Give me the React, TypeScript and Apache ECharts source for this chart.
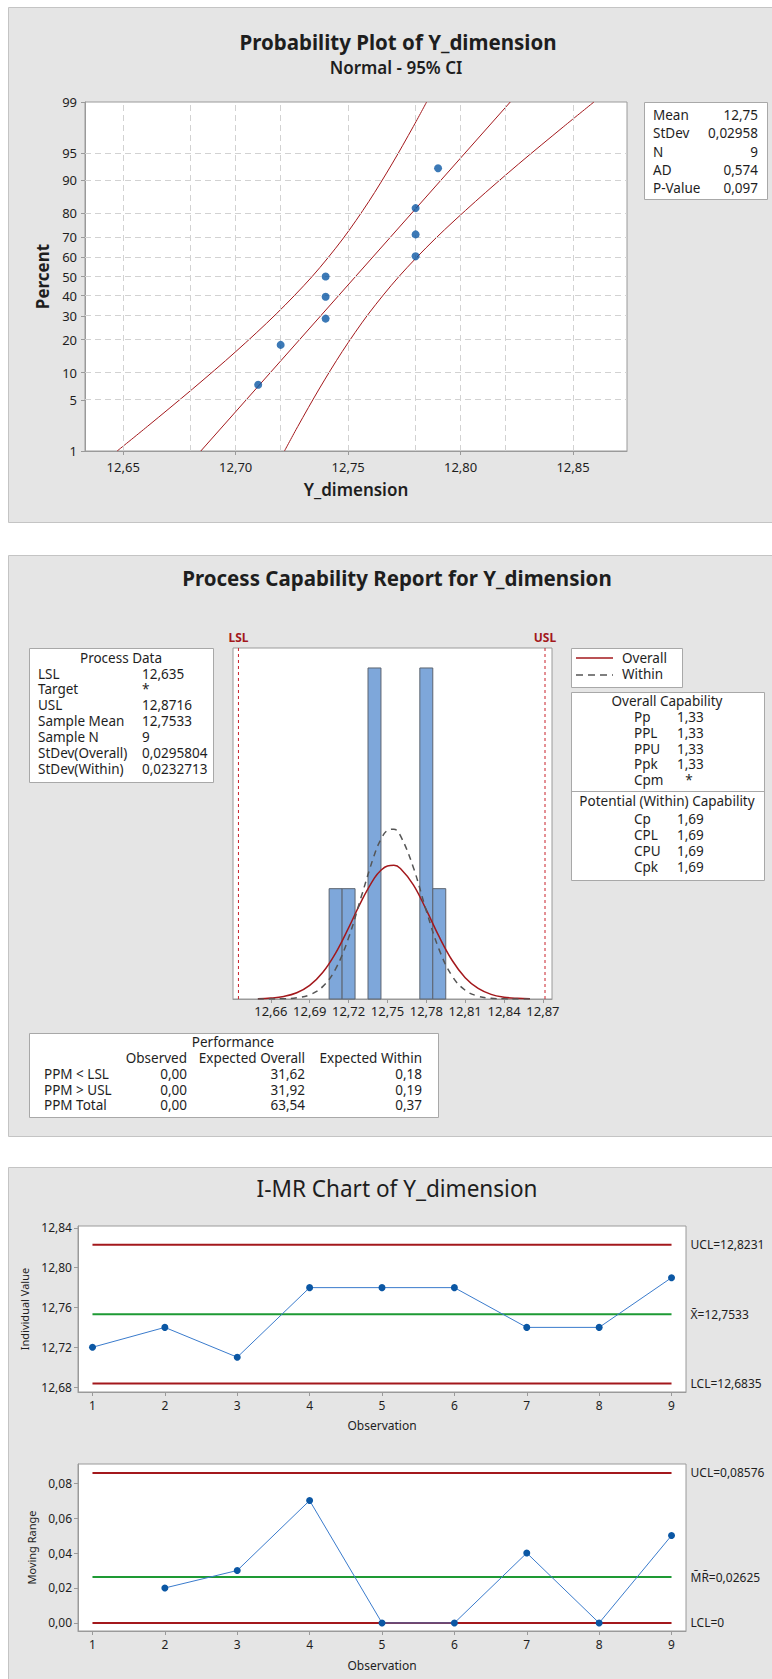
import React, { useEffect, useRef } from 'react';
import * as echarts from 'echarts';

const FONT = '"Noto Sans", "Open Sans", sans-serif';
const TXT = '#1e1e1e';
const AX = '#9a9a9a';
const RED = '#a3181c';
const BLUE = '#0b57a4';

// ---------- Probability plot ----------
const probValues = [12.71, 12.72, 12.74, 12.74, 12.74, 12.78, 12.78, 12.78, 12.79];
const probPercents = [7.45, 18.09, 28.72, 39.36, 50.0, 60.64, 71.28, 81.91, 92.55];
const percentTicks = [1, 5, 10, 20, 30, 40, 50, 60, 70, 80, 90, 95, 99];
const percentGrid = [5, 10, 20, 30, 40, 50, 60, 70, 80, 90, 95];
const probXTicks = [12.65, 12.7, 12.75, 12.8, 12.85];
const probXGrid = [12.65, 12.675, 12.7, 12.725, 12.75, 12.775, 12.8, 12.825, 12.85];
const fitPercents = [1, 99];
const fitValues = [12.6845, 12.8221];
const ciPercents = [1, 2.275, 6.68, 15.87, 30.85, 50, 69.15, 84.13, 93.32, 97.725, 99];
const ciLower = [12.6473, 12.6607, 12.6808, 12.7001, 12.718, 12.734, 12.7476, 12.7592, 12.7695, 12.779, 12.7849];
const ciUpper = [12.7217, 12.7276, 12.7371, 12.7474, 12.759, 12.7726, 12.7886, 12.8066, 12.8258, 12.8459, 12.8593];
const statLabels = ['Mean', 'StDev', 'N', 'AD', 'P-Value'];
const statValues = ['12,75', '0,02958', '9', '0,574', '0,097'];

// ---------- Capability ----------
const binCenters = [12.71, 12.72, 12.74, 12.78, 12.79];
const binCounts = [1, 1, 3, 3, 1];
const binWidth = 0.01;
const specValues = [12.635, 12.8716];
const specLabels = ['LSL', 'USL'];
const histXTicks = [12.66, 12.69, 12.72, 12.75, 12.78, 12.81, 12.84, 12.87];
const histYMax = 3.181;
const curveX = [12.65, 12.66, 12.67, 12.68, 12.69, 12.7, 12.71, 12.72, 12.73, 12.74, 12.745, 12.75, 12.755, 12.76, 12.77, 12.78, 12.79, 12.8, 12.81, 12.82, 12.83, 12.84, 12.85, 12.86];
const overallY = [0.0027, 0.0084, 0.023, 0.0563, 0.1229, 0.2394, 0.4157, 0.6439, 0.8898, 1.0969, 1.1669, 1.2062, 1.2118, 1.1831, 1.035, 0.8077, 0.5622, 0.3491, 0.1932, 0.0955, 0.0421, 0.0165, 0.0058, 0.0018];
const withinY = [0.0001, 0.0005, 0.0025, 0.0108, 0.0382, 0.1121, 0.2731, 0.5542, 0.9349, 1.3101, 1.4479, 1.5274, 1.5388, 1.4803, 1.1922, 0.7992, 0.445, 0.206, 0.0792, 0.0254, 0.0067, 0.0015, 0.0003, 0.0];
const processLabels = ['LSL', 'Target', 'USL', 'Sample Mean', 'Sample N', 'StDev(Overall)', 'StDev(Within)'];
const processValues = ['12,635', '*', '12,8716', '12,7533', '9', '0,0295804', '0,0232713'];
const overallCapLabels = ['Pp', 'PPL', 'PPU', 'Ppk', 'Cpm'];
const overallCapValues = ['1,33', '1,33', '1,33', '1,33', '*'];
const withinCapLabels = ['Cp', 'CPL', 'CPU', 'Cpk'];
const withinCapValues = ['1,69', '1,69', '1,69', '1,69'];
const perfRows = ['PPM < LSL', 'PPM > USL', 'PPM Total'];
const perfObserved = ['0,00', '0,00', '0,00'];
const perfExpOverall = ['31,62', '31,92', '63,54'];
const perfExpWithin = ['0,18', '0,19', '0,37'];

// ---------- I-MR ----------
const observations = [1, 2, 3, 4, 5, 6, 7, 8, 9];
const indValues = [12.72, 12.74, 12.71, 12.78, 12.78, 12.78, 12.74, 12.74, 12.79];
const mrValues = [null, 0.02, 0.03, 0.07, 0.0, 0.0, 0.04, 0.0, 0.05];
const iUCL = 12.8231, iMean = 12.7533, iLCL = 12.6835;
const mrUCL = 0.08576, mrMean = 0.02625, mrLCL = 0;
const iYTicks = [12.68, 12.72, 12.76, 12.8, 12.84];
const mrYTicks = [0, 0.02, 0.04, 0.06, 0.08];

function probit(p: number): number {
  const a = [-3.969683028665376e1, 2.209460984245205e2, -2.759285104469687e2, 1.38357751867269e2, -3.066479806614716e1, 2.506628277459239];
  const b = [-5.447609879822406e1, 1.615858368580409e2, -1.556989798598866e2, 6.680131188771972e1, -1.328068155288572e1];
  const c = [-7.784894002430293e-3, -3.223964580411365e-1, -2.400758277161838, -2.549732539343734, 4.374664141464968, 2.938163982698783];
  const d = [7.784695709041462e-3, 3.224671290700398e-1, 2.445134137142996, 3.754408661907416];
  const pl = 0.02425;
  let q: number, r: number;
  if (p < pl) {
    q = Math.sqrt(-2 * Math.log(p));
    return (((((c[0] * q + c[1]) * q + c[2]) * q + c[3]) * q + c[4]) * q + c[5]) / ((((d[0] * q + d[1]) * q + d[2]) * q + d[3]) * q + 1);
  }
  if (p <= 1 - pl) {
    q = p - 0.5; r = q * q;
    return (((((a[0] * r + a[1]) * r + a[2]) * r + a[3]) * r + a[4]) * r + a[5]) * q / (((((b[0] * r + b[1]) * r + b[2]) * r + b[3]) * r + b[4]) * r + 1);
  }
  q = Math.sqrt(-2 * Math.log(1 - p));
  return -(((((c[0] * q + c[1]) * q + c[2]) * q + c[3]) * q + c[4]) * q + c[5]) / ((((d[0] * q + d[1]) * q + d[2]) * q + d[3]) * q + 1);
}

const fmt = (v: number, n: number) => v.toFixed(n).replace('.', ',');

function txt(text: string, x: number, y: number, o: any = {}) {
  return {
    type: 'text', x, y, z: 100, silent: true, scaleX: o.scaleX ?? 1,
    style: {
      text, x: 0, y: 0, fill: o.color || TXT, fontSize: o.size || 13.5, fontFamily: FONT,
      fontWeight: o.weight || 'normal', textAlign: o.align || 'left', textVerticalAlign: 'middle',
    },
  };
}
function box(x: number, y: number, w: number, h: number, o: any = {}) {
  return {
    type: 'rect', z: o.z ?? 50, silent: true,
    shape: { x, y, width: w, height: h },
    style: { fill: o.fill || '#ffffff', stroke: o.stroke || '#a8a8a8', lineWidth: 1 },
  };
}

function buildOption() {
  const zMin = probit(0.01);
  const zMax = probit(0.99);
  const zTicks = percentTicks.map((p) => probit(p / 100));
  const pctLabel = (v: number) => {
    let best = 0;
    zTicks.forEach((z, i) => { if (Math.abs(z - v) < Math.abs(zTicks[best] - v)) best = i; });
    return String(percentTicks[best]);
  };

  const axLine = { show: true, onZero: false, lineStyle: { color: AX, width: 1 } };
  const tick = (vals: number[]) => ({ show: true, length: 4, customValues: vals, lineStyle: { color: AX } });
  const lab = (vals: number[], f: (v: number) => string, size: number, margin: number) => ({
    customValues: vals, formatter: f, color: TXT, fontSize: size, fontFamily: FONT, margin,
  });

  const graphics: any[] = [];
  // panels
  graphics.push(box(8.5, 7.5, 770, 515, { fill: '#e5e5e5', stroke: '#c4c4c4', z: -10 }));
  graphics.push(box(8.5, 555.5, 770, 581, { fill: '#e5e5e5', stroke: '#c4c4c4', z: -10 }));
  graphics.push(box(8.5, 1167.5, 770, 530, { fill: '#e5e5e5', stroke: '#c4c4c4', z: -10 }));

  // panel 1 texts
  graphics.push(txt('Probability Plot of Y_dimension', 398, 42, { size: 20.5, weight: 'bold', align: 'center' }));
  graphics.push(txt('Normal - 95% CI', 396, 67, { size: 17, weight: 600, align: 'center' }));
  graphics.push(box(644.5, 102.5, 123, 97));
  statLabels.forEach((l, i) => {
    const y = 115 + i * 18.3;
    graphics.push(txt(l, 653, y));
    graphics.push(txt(statValues[i], 758, y, { align: 'right' }));
  });

  // panel 2 texts
  graphics.push(txt('Process Capability Report for Y_dimension', 397, 578, { size: 20.5, weight: 'bold', align: 'center' }));
  graphics.push(box(29.5, 648.5, 184, 134));
  graphics.push(txt('Process Data', 121, 658, { align: 'center' }));
  processLabels.forEach((l, i) => {
    const y = 673.5 + i * 15.9;
    graphics.push(txt(l, 38, y));
    graphics.push(txt(processValues[i], 142, y));
  });
  graphics.push(box(571.5, 648.5, 111, 39));
  graphics.push({ type: 'line', z: 100, silent: true, shape: { x1: 576, y1: 658, x2: 613, y2: 658 }, style: { stroke: RED, lineWidth: 1.5 } });
  graphics.push({ type: 'line', z: 100, silent: true, shape: { x1: 576, y1: 675, x2: 613, y2: 675 }, style: { stroke: '#555', lineWidth: 1.3, lineDash: [7, 5] } });
  graphics.push(txt('Overall', 622, 658));
  graphics.push(txt('Within', 622, 674));
  graphics.push(box(571.5, 692.5, 193, 188));
  graphics.push(txt('Overall Capability', 667, 701, { align: 'center' }));
  overallCapLabels.forEach((l, i) => {
    const y = 717 + i * 15.8;
    const star = overallCapValues[i] === '*';
    graphics.push(txt(l, 634, y));
    graphics.push(txt(overallCapValues[i], star ? 689 : 677, y, { align: star ? 'center' : 'left' }));
  });
  graphics.push({ type: 'line', z: 100, silent: true, shape: { x1: 571.5, y1: 791.5, x2: 764.5, y2: 791.5 }, style: { stroke: '#a8a8a8', lineWidth: 1 } });
  graphics.push(txt('Potential (Within) Capability', 667, 801, { align: 'center' }));
  withinCapLabels.forEach((l, i) => {
    const y = 819 + i * 15.9;
    graphics.push(txt(l, 634, y));
    graphics.push(txt(withinCapValues[i], 677, y));
  });
  graphics.push(box(29.5, 1033.5, 409, 84));
  graphics.push(txt('Performance', 233, 1042, { align: 'center' }));
  graphics.push(txt('Observed', 187, 1058, { align: 'right' }));
  graphics.push(txt('Expected Overall', 305, 1058, { align: 'right' }));
  graphics.push(txt('Expected Within', 422, 1058, { align: 'right' }));
  perfRows.forEach((l, i) => {
    const y = 1074 + i * 15.5;
    graphics.push(txt(l, 44, y));
    graphics.push(txt(perfObserved[i], 187, y, { align: 'right' }));
    graphics.push(txt(perfExpOverall[i], 305, y, { align: 'right' }));
    graphics.push(txt(perfExpWithin[i], 422, y, { align: 'right' }));
  });

  // panel 3 title
  graphics.push(txt('I-MR Chart of Y_dimension', 397, 1188, { size: 23, align: 'center', scaleX: 0.98 }));

  const gridBase = { show: true, backgroundColor: '#ffffff', borderColor: AX, borderWidth: 1, z: 0, containLabel: false, outerBoundsMode: 'none' };

  const ctrlLine = (xi: number, yi: number, v: number, color: string, label: string) => ({
    type: 'line', xAxisIndex: xi, yAxisIndex: yi, z: 3, silent: true, symbol: 'none',
    data: [[observations[0], v], [observations[observations.length - 1], v]],
    lineStyle: { color, width: 2 },
    endLabel: { show: true, formatter: label, distance: 19, color: TXT, fontSize: 12, fontFamily: FONT },
  });

  return {
    animation: false,
    backgroundColor: '#ffffff',
    textStyle: { fontFamily: FONT },
    graphic: { elements: graphics },
    grid: [
      { ...gridBase, left: 85, top: 102, width: 542, height: 349 },
      { ...gridBase, left: 233, top: 648, width: 319, height: 351 },
      { ...gridBase, left: 78, top: 1226, width: 608, height: 166 },
      { ...gridBase, left: 78, top: 1464, width: 608, height: 167 },
    ],
    xAxis: [
      {
        gridIndex: 0, type: 'value', min: 12.633, max: 12.874, axisLine: axLine, axisTick: tick(probXTicks),
        axisLabel: lab(probXTicks, (v) => fmt(v, 2), 13, 9), splitLine: { show: false },
        name: 'Y_dimension', nameLocation: 'middle', nameGap: 30,
        nameTextStyle: { fontSize: 17, fontWeight: 600, color: TXT, fontFamily: FONT },
      },
      {
        gridIndex: 1, type: 'value', min: 12.6308, max: 12.877, axisLine: axLine, axisTick: tick(histXTicks),
        axisLabel: lab(histXTicks, (v) => fmt(v, 2), 13, 5), splitLine: { show: false },
      },
      {
        gridIndex: 2, type: 'value', min: 0.8, max: 9.2, axisLine: axLine, axisTick: tick(observations),
        axisLabel: lab(observations, (v) => String(Math.round(v)), 12, 7), splitLine: { show: false },
        name: 'Observation', nameLocation: 'middle', nameGap: 27,
        nameTextStyle: { fontSize: 12, color: TXT, fontFamily: FONT },
      },
      {
        gridIndex: 3, type: 'value', min: 0.8, max: 9.2, axisLine: axLine, axisTick: tick(observations),
        axisLabel: lab(observations, (v) => String(Math.round(v)), 12, 7), splitLine: { show: false },
        name: 'Observation', nameLocation: 'middle', nameGap: 28,
        nameTextStyle: { fontSize: 12, color: TXT, fontFamily: FONT },
      },
    ],
    yAxis: [
      {
        gridIndex: 0, type: 'value', min: zMin, max: zMax, axisLine: axLine, axisTick: tick(zTicks),
        axisLabel: lab(zTicks, pctLabel, 13, 8), splitLine: { show: false },
        name: 'Percent', nameLocation: 'middle', nameGap: 32,
        nameTextStyle: { fontSize: 17, fontWeight: 'bold', color: TXT, fontFamily: FONT },
      },
      { gridIndex: 1, type: 'value', min: 0, max: histYMax, show: false, splitLine: { show: false } },
      {
        gridIndex: 2, type: 'value', min: 12.675, max: 12.842, axisLine: axLine, axisTick: tick(iYTicks),
        axisLabel: lab(iYTicks, (v) => fmt(v, 2), 12, 6), splitLine: { show: false },
        name: 'Individual Value', nameLocation: 'middle', nameGap: 40,
        nameTextStyle: { fontSize: 11, color: TXT, fontFamily: FONT },
      },
      {
        gridIndex: 3, type: 'value', min: -0.0046, max: 0.0909, axisLine: axLine, axisTick: tick(mrYTicks),
        axisLabel: lab(mrYTicks, (v) => fmt(v, 2), 12, 6), splitLine: { show: false },
        name: 'Moving Range', nameLocation: 'middle', nameGap: 40,
        nameTextStyle: { fontSize: 11, color: TXT, fontFamily: FONT },
      },
    ],
    series: [
      // probability plot grid lines
      {
        type: 'line', xAxisIndex: 0, yAxisIndex: 0, z: 1, silent: true, showSymbol: false,
        data: [[12.75, 0]], lineStyle: { opacity: 0 },
        markLine: {
          silent: true, symbol: ['none', 'none'], label: { show: false },
          lineStyle: { color: '#d2d2d2', type: [6, 4], width: 1 },
          data: [
            ...probXGrid.map((v) => ({ xAxis: v })),
            ...percentGrid.map((p) => ({ yAxis: probit(p / 100) })),
          ],
        },
      },
      {
        type: 'line', xAxisIndex: 0, yAxisIndex: 0, z: 3, silent: true, symbol: 'none',
        data: fitValues.map((x, i) => [x, probit(fitPercents[i] / 100)]),
        lineStyle: { color: RED, width: 1 },
      },
      {
        type: 'line', xAxisIndex: 0, yAxisIndex: 0, z: 3, silent: true, symbol: 'none', smooth: 0.3,
        data: ciLower.map((x, i) => [x, probit(ciPercents[i] / 100)]),
        lineStyle: { color: RED, width: 1 },
      },
      {
        type: 'line', xAxisIndex: 0, yAxisIndex: 0, z: 3, silent: true, symbol: 'none', smooth: 0.3,
        data: ciUpper.map((x, i) => [x, probit(ciPercents[i] / 100)]),
        lineStyle: { color: RED, width: 1 },
      },
      {
        type: 'scatter', xAxisIndex: 0, yAxisIndex: 0, z: 5, silent: true, symbolSize: 8,
        data: probValues.map((x, i) => [x, probit(probPercents[i] / 100)]),
        itemStyle: { color: BLUE },
      },
      // histogram
      {
        type: 'custom', xAxisIndex: 1, yAxisIndex: 1, z: 2, silent: true,
        data: binCenters.map((x, i) => [x, binCounts[i]]),
        encode: { x: 0, y: 1 },
        renderItem: (params: any, api: any) => {
          const x = api.value(0), c = api.value(1);
          const p0 = api.coord([x - binWidth / 2, c]);
          const p1 = api.coord([x + binWidth / 2, 0]);
          return {
            type: 'rect',
            shape: { x: p0[0], y: p0[1], width: p1[0] - p0[0], height: p1[1] - p0[1] },
            style: { fill: '#7ea7da', stroke: '#5c6470', lineWidth: 1 },
          };
        },
      },
      {
        type: 'line', xAxisIndex: 1, yAxisIndex: 1, z: 4, silent: true, symbol: 'none', smooth: 0.4,
        data: curveX.map((x, i) => [x, overallY[i]]),
        lineStyle: { color: RED, width: 1.5 },
      },
      {
        type: 'line', xAxisIndex: 1, yAxisIndex: 1, z: 4, silent: true, symbol: 'none', smooth: 0.4,
        data: curveX.map((x, i) => [x, withinY[i]]),
        lineStyle: { color: '#555555', width: 1.5, type: [6, 5] },
      },
      {
        type: 'custom', xAxisIndex: 1, yAxisIndex: 1, z: 4, silent: true, clip: false,
        data: specValues.map((v) => [v, 0]),
        encode: { x: 0, y: 1 },
        renderItem: (params: any, api: any) => {
          const v = api.value(0);
          const b = api.coord([v, 0]);
          const t = api.coord([v, histYMax]);
          return {
            type: 'group',
            children: [
              {
                type: 'line',
                shape: { x1: b[0], y1: b[1], x2: t[0], y2: t[1] },
                style: { stroke: '#c8202a', lineWidth: 1, lineDash: [3, 3] },
              },
              {
                type: 'text',
                style: {
                  text: specLabels[params.dataIndex], x: t[0], y: t[1] - 11, fill: RED,
                  fontSize: 12, fontWeight: 'bold', fontFamily: FONT, textAlign: 'center', textVerticalAlign: 'middle',
                },
              },
            ],
          };
        },
      },
      // I chart
      ctrlLine(2, 2, iUCL, RED, 'UCL=' + fmt(iUCL, 4)),
      ctrlLine(2, 2, iMean, '#1e9a34', 'X\u0304=' + fmt(iMean, 4)),
      ctrlLine(2, 2, iLCL, RED, 'LCL=' + fmt(iLCL, 4)),
      {
        type: 'line', xAxisIndex: 2, yAxisIndex: 2, z: 5, silent: true, symbol: 'circle', symbolSize: 7,
        data: indValues.map((v, i) => [observations[i], v]),
        lineStyle: { color: '#3a7bcc', width: 1 }, itemStyle: { color: BLUE },
      },
      // MR chart
      ctrlLine(3, 3, mrUCL, RED, 'UCL=' + fmt(mrUCL, 5)),
      ctrlLine(3, 3, mrMean, '#1e9a34', 'M\u0304R\u0304=' + fmt(mrMean, 5)),
      ctrlLine(3, 3, mrLCL, RED, 'LCL=0'),
      {
        type: 'line', xAxisIndex: 3, yAxisIndex: 3, z: 5, silent: true, symbol: 'circle', symbolSize: 7,
        data: mrValues.map((v, i) => (v === null ? null : [observations[i], v])).filter((d) => d !== null),
        lineStyle: { color: '#3a7bcc', width: 1 }, itemStyle: { color: BLUE },
      },
    ],
  };
}

export default function App() {
  const ref = useRef<HTMLDivElement>(null);
  useEffect(() => {
    const chart = echarts.init(ref.current as HTMLDivElement, null, { renderer: 'svg' });
    chart.setOption(buildOption() as any);
    return () => chart.dispose();
  }, []);
  return (
    <div
      ref={ref}
      style={{ position: 'fixed', left: 0, top: 0, width: 772, height: 1679, background: '#ffffff' }}
    />
  );
}
